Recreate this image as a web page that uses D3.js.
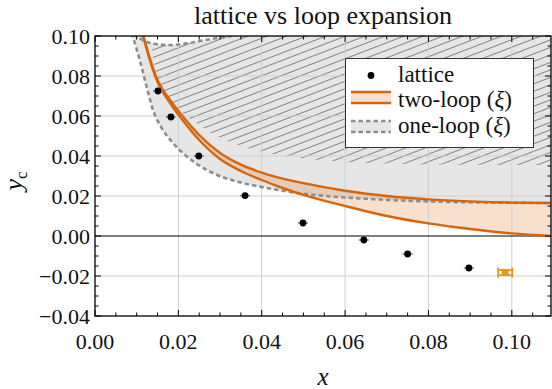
<!DOCTYPE html>
<html>
<head>
<meta charset="utf-8">
<script src="https://cdn.jsdelivr.net/npm/d3@7"></script>
<style>
  body { margin: 0; background: #fff; }
  svg { display: block; }
  text { font-family: "Liberation Serif", "Times New Roman", serif; fill: #111; }
</style>
</head>
<body>
<svg id="chart" width="552" height="389"></svg>
<script>
// ---- data ----
const latticeX    = [0.0151, 0.0182, 0.0249, 0.0360, 0.0499, 0.0645, 0.0750, 0.0897];
const latticeY    = [0.0725, 0.0595, 0.0400, 0.0202, 0.0065, -0.0020, -0.0090, -0.0160];
const latticeXErr = [0.0012, 0.0012, 0.0012, 0.0012, 0.0012, 0.0012, 0.0012, 0.0012];

const extraX = [0.0984];
const extraY = [-0.0183];
const extraXErr = [0.0017];
const extraYErr = [0.0026];

// two-loop band (upper / lower edge)
const twoLoopX     = [0.0112, 0.0130, 0.0148, 0.0180, 0.0210, 0.0250, 0.0300, 0.0350, 0.0400, 0.0450, 0.0500, 0.0600, 0.0700, 0.0800, 0.0900, 0.1000, 0.1094];
const twoLoopUpper = [0.1030, 0.0900, 0.0790, 0.0680, 0.0600, 0.0505, 0.0415, 0.0357, 0.0317, 0.0287, 0.0264, 0.0226, 0.0200, 0.0183, 0.0173, 0.0167, 0.0165];
const twoLoopLower = [0.1030, 0.0890, 0.0780, 0.0665, 0.0580, 0.0480, 0.0385, 0.0325, 0.0280, 0.0240, 0.0206, 0.0150, 0.0100, 0.0063, 0.0035, 0.0013, 0.0000];

// one-loop band: lower dashed edge and upper dashed edge
const oneLoopLowX = [0.0088, 0.0108, 0.0124, 0.0140, 0.0160, 0.0187, 0.0220, 0.0252, 0.0290, 0.0331, 0.0400, 0.0451, 0.0500, 0.0570, 0.0650, 0.0800, 0.0950, 0.1094];
const oneLoopLowY = [0.1015, 0.0875, 0.0745, 0.0625, 0.0540, 0.0465, 0.0398, 0.0350, 0.0308, 0.0278, 0.0245, 0.0226, 0.0211, 0.0197, 0.0186, 0.0173, 0.0167, 0.0165];
const oneLoopUpX  = [0.0092, 0.0110, 0.0125, 0.0150, 0.0180, 0.0220, 0.0260, 0.0300, 0.0340, 0.0380];
const oneLoopUpY  = [0.1010, 0.0985, 0.0970, 0.0958, 0.0955, 0.0963, 0.0978, 0.0992, 0.1005, 0.1020];

// lower edge of the hatched (excluded) region
const hatchX = [0.0135, 0.0148, 0.0175, 0.0200, 0.0250, 0.0300, 0.0350, 0.0400, 0.0450, 0.0500, 0.0600, 0.0700, 0.0800, 0.1094];
const hatchY = [0.0965, 0.0800, 0.0700, 0.0635, 0.0555, 0.0492, 0.0450, 0.0422, 0.0402, 0.0388, 0.0370, 0.0362, 0.0358, 0.0355];

const xTicks = [0.00, 0.02, 0.04, 0.06, 0.08, 0.10];
const yTicks = [-0.04, -0.02, 0.00, 0.02, 0.04, 0.06, 0.08, 0.10];
const minorStep = 0.005;

const titleText = "lattice vs loop expansion";
const legendLabels = ["lattice", "two-loop", "one-loop"];

// ---- layout ----
const L = 95, R = 551, T = 36, B = 316;
const x = d3.scaleLinear().domain([0, 0.1094]).range([L, R]);
const y = d3.scaleLinear().domain([-0.04, 0.10]).range([B, T]);

const ORANGE = "#d9650b";
const GREY_LINE = "#8e8e8e";
const GREY_FILL = "#e6e6e6";

const svg = d3.select("#chart");
const defs = svg.append("defs");
defs.append("clipPath").attr("id", "plotClip")
  .append("rect").attr("x", L).attr("y", T).attr("width", R - L).attr("height", B - T);

const hatch = defs.append("pattern").attr("id", "hatch")
  .attr("patternUnits", "userSpaceOnUse")
  .attr("width", 12).attr("height", 7)
  .attr("patternTransform", "rotate(-21)");
hatch.append("line").attr("x1", 0).attr("x2", 12).attr("y1", 3.5).attr("y2", 3.5)
  .attr("stroke", "#7a7a7a").attr("stroke-width", 0.9);

const pts = (xs, ys) => xs.map((v, i) => [v, ys[i]]);
const curve = d3.curveMonotoneX;
const line = d3.line().x(d => x(d[0])).y(d => y(d[1])).curve(curve);
const topY = 0.13;
// region above a curve, up to beyond the top of the axes
const above = d3.area().x(d => x(d[0])).y0(d => y(d[1])).y1(y(topY)).curve(curve);

const plot = svg.append("g").attr("clip-path", "url(#plotClip)");

const low1 = pts(oneLoopLowX, oneLoopLowY);
const up1 = pts(oneLoopUpX, oneLoopUpY);

// one-loop band: grey above the lower edge ...
plot.append("path").attr("d", above(low1)).attr("fill", GREY_FILL);
// ... hatched above the excluded-region edge ...
plot.append("path").attr("d", above(pts(hatchX, hatchY))).attr("fill", "url(#hatch)");
// ... and cleared again above the upper edge
plot.append("path").attr("d", above(up1)).attr("fill", "#fff");

// two-loop band fill
const area2 = d3.area().x((d, i) => x(twoLoopX[i]))
  .y0((d, i) => y(twoLoopLower[i])).y1((d, i) => y(twoLoopUpper[i]))
  .curve(curve);
plot.append("path").attr("d", area2(twoLoopX)).attr("fill", ORANGE).attr("fill-opacity", 0.2);

// grid
plot.append("g").selectAll("line").data(xTicks.filter(v => v > 0)).join("line")
  .attr("x1", d => x(d)).attr("x2", d => x(d)).attr("y1", T).attr("y2", B)
  .attr("stroke", "#cfcfcf").attr("stroke-width", 1);
plot.append("g").selectAll("line").data(yTicks.filter(v => v > -0.04 && v < 0.10 && v !== 0)).join("line")
  .attr("x1", L).attr("x2", R).attr("y1", d => y(d)).attr("y2", d => y(d))
  .attr("stroke", "#cfcfcf").attr("stroke-width", 1);
plot.append("line").attr("x1", L).attr("x2", R).attr("y1", y(0)).attr("y2", y(0))
  .attr("stroke", "#000").attr("stroke-width", 1);

// one-loop dashed edges
[low1, up1].forEach(p => plot.append("path").attr("d", line(p)).attr("fill", "none")
  .attr("stroke", GREY_LINE).attr("stroke-width", 2.6).attr("stroke-dasharray", "4.5,3"));

// two-loop edges
[twoLoopUpper, twoLoopLower].forEach(ys => plot.append("path").attr("d", line(pts(twoLoopX, ys)))
  .attr("fill", "none").attr("stroke", ORANGE).attr("stroke-width", 2.4));

// lattice points with x error bars
const lat = latticeX.map((v, i) => ({ x: v, y: latticeY[i], e: latticeXErr[i] }));
plot.append("g").selectAll("line").data(lat).join("line")
  .attr("x1", d => x(d.x - d.e)).attr("x2", d => x(d.x + d.e))
  .attr("y1", d => y(d.y)).attr("y2", d => y(d.y))
  .attr("stroke", "#6f93c9").attr("stroke-width", 1.6);
plot.append("g").selectAll("circle").data(lat).join("circle")
  .attr("cx", d => x(d.x)).attr("cy", d => y(d.y)).attr("r", 3.4).attr("fill", "#000");

// extra point with error box
const EX = "#e8981c";
extraX.forEach((v, i) => {
  const g = plot.append("g").attr("stroke", EX).attr("fill", "none").attr("stroke-width", 1.8);
  const x0 = x(v - extraXErr[i]), x1 = x(v + extraXErr[i]);
  const y0 = y(extraY[i] + extraYErr[i]), y1 = y(extraY[i] - extraYErr[i]);
  const yc = y(extraY[i]);
  g.append("line").attr("x1", x0).attr("x2", x0).attr("y1", y0).attr("y2", y1);
  g.append("line").attr("x1", x1).attr("x2", x1).attr("y1", y0).attr("y2", y1);
  g.append("line").attr("x1", x0).attr("x2", x1).attr("y1", yc - 2.5).attr("y2", yc - 2.5);
  g.append("line").attr("x1", x0).attr("x2", x1).attr("y1", yc + 2.5).attr("y2", yc + 2.5);
  g.append("rect").attr("x", x(v) - 3.5).attr("y", yc - 3.5).attr("width", 7).attr("height", 7)
    .attr("fill", EX).attr("stroke", "none");
});

// frame and ticks
const frame = svg.append("g");
frame.append("rect").attr("x", L).attr("y", T).attr("width", R - L).attr("height", B - T)
  .attr("fill", "none").attr("stroke", "#000").attr("stroke-width", 1.3);

const xMinor = d3.range(0, 0.1094 + 1e-9, minorStep);
const yMinor = d3.range(-0.04, 0.10 + 1e-9, minorStep);
const isMajor = v => Math.abs(v / 0.02 - Math.round(v / 0.02)) < 1e-6;
const tickG = frame.append("g").attr("stroke", "#000").attr("stroke-width", 1);
xMinor.forEach(v => {
  const len = isMajor(v) ? 6 : 3.5;
  tickG.append("line").attr("x1", x(v)).attr("x2", x(v)).attr("y1", B).attr("y2", B - len);
  tickG.append("line").attr("x1", x(v)).attr("x2", x(v)).attr("y1", T).attr("y2", T + len);
});
yMinor.forEach(v => {
  const len = isMajor(v) ? 6 : 3.5;
  tickG.append("line").attr("x1", L).attr("x2", L + len).attr("y1", y(v)).attr("y2", y(v));
  tickG.append("line").attr("x1", R).attr("x2", R - len).attr("y1", y(v)).attr("y2", y(v));
});

const fmt = v => (v < 0 ? "\u2212" : "") + Math.abs(v).toFixed(2);
frame.append("g").selectAll("text").data(xTicks).join("text")
  .attr("x", d => x(d)).attr("y", 349).attr("text-anchor", "middle")
  .attr("font-size", 22).text(fmt);
frame.append("g").selectAll("text").data(yTicks).join("text")
  .attr("x", 90).attr("y", d => y(d) + 7.5).attr("text-anchor", "end")
  .attr("font-size", 22).text(fmt);

// title and axis labels
svg.append("text").attr("x", (L + R) / 2).attr("y", 24).attr("text-anchor", "middle")
  .attr("font-size", 26).text(titleText);
svg.append("text").attr("x", (L + R) / 2).attr("y", 385).attr("text-anchor", "middle")
  .attr("font-size", 25).attr("font-style", "italic").text("x");
const yl = svg.append("text").attr("transform", "translate(22,181) rotate(-90)")
  .attr("text-anchor", "middle").attr("font-size", 26);
yl.append("tspan").attr("font-style", "italic").text("y");
yl.append("tspan").attr("font-size", 17).attr("dy", 5).text("c");

// legend
const lg = svg.append("g");
lg.append("rect").attr("x", 345.5).attr("y", 58.5).attr("width", 188).attr("height", 89)
  .attr("fill", "#fff").attr("stroke", "#333").attr("stroke-width", 1);
lg.append("circle").attr("cx", 371).attr("cy", 75.5).attr("r", 3.4).attr("fill", "#000");
lg.append("rect").attr("x", 351).attr("y", 92).attr("width", 40).attr("height", 11)
  .attr("fill", ORANGE).attr("fill-opacity", 0.2);
[92, 103].forEach(yy => lg.append("line").attr("x1", 351).attr("x2", 391).attr("y1", yy).attr("y2", yy)
  .attr("stroke", ORANGE).attr("stroke-width", 2.4));
lg.append("rect").attr("x", 351).attr("y", 121).attr("width", 40).attr("height", 11).attr("fill", GREY_FILL);
[121, 132].forEach(yy => lg.append("line").attr("x1", 351).attr("x2", 391).attr("y1", yy).attr("y2", yy)
  .attr("stroke", GREY_LINE).attr("stroke-width", 2.6).attr("stroke-dasharray", "4.5,3"));
const lgY = [81.5, 107, 132.5];
legendLabels.forEach((s, i) => {
  const t = lg.append("text").attr("x", 398).attr("y", lgY[i]).attr("font-size", 23).text(s);
  if (i > 0) {
    t.append("tspan").text(" (");
    t.append("tspan").attr("font-style", "italic").text("\u03be");
    t.append("tspan").text(")");
  }
});
</script>
</body>
</html>
